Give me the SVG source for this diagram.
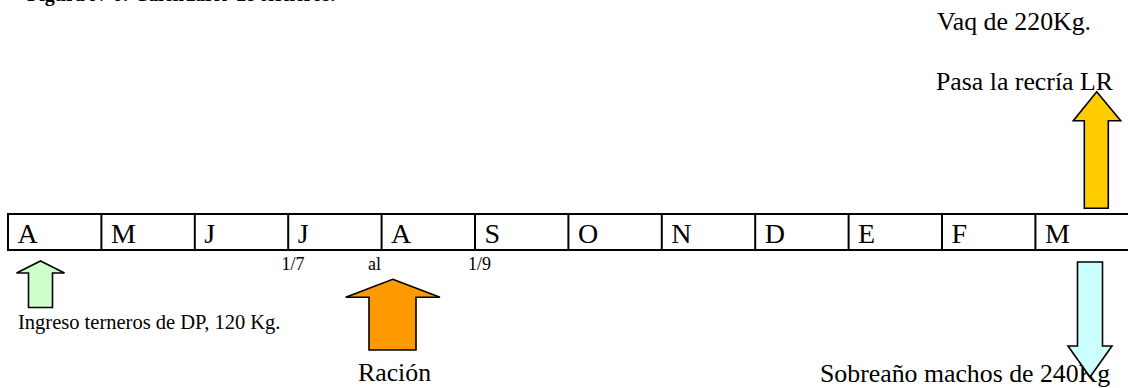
<svg xmlns="http://www.w3.org/2000/svg" width="1128" height="388" viewBox="0 0 1128 388">
<style>
  text { font-family: "Liberation Serif", "Times New Roman", serif; fill: #000; }
  .month { font-size: 28px; }
  .small { font-size: 18px; }
  .label { font-size: 25.8px; }
  .title { font-size: 20px; font-weight: bold; }
  .grid { fill: none; stroke: #000; stroke-width: 2; }
  .arrow { stroke: #000; stroke-width: 1.6; stroke-linejoin: miter; }
</style>
<rect width="1128" height="388" fill="#fff"/>
<text class="title" x="27" y="0.5">Figura N°6: Calendario de terneros.</text>

<g id="timeline">
  <rect class="grid" x="8" y="214" width="1121" height="36"/>
  <path class="grid" d="M101.4 214V250M194.8 214V250M288.2 214V250M381.6 214V250M475 214V250M568.4 214V250M661.8 214V250M755.2 214V250M848.6 214V250M942 214V250M1035.4 214V250"/>
  <text class="month" x="17.5" y="243">A</text>
  <text class="month" x="110.9" y="243">M</text>
  <text class="month" x="204.3" y="243">J</text>
  <text class="month" x="297.7" y="243">J</text>
  <text class="month" x="391.1" y="243">A</text>
  <text class="month" x="484.5" y="243">S</text>
  <text class="month" x="577.9" y="243">O</text>
  <text class="month" x="671.3" y="243">N</text>
  <text class="month" x="764.7" y="243">D</text>
  <text class="month" x="858.1" y="243">E</text>
  <text class="month" x="951.5" y="243">F</text>
  <text class="month" x="1044.9" y="243">M</text>
</g>

<g id="dates">
  <text class="small" x="281.5" y="269.5">1/7</text>
  <text class="small" x="368" y="269.5">al</text>
  <text class="small" x="468" y="269.5">1/9</text>
</g>

<g id="ingreso">
  <path class="arrow" fill="#CCFFCC" d="M40.5 261L64.5 273H52.5V307.5H28.5V273H16.5Z"/>
  <text style="font-size:20.5px" x="18" y="328.5">Ingreso terneros de DP, 120 Kg.</text>
</g>

<g id="racion">
  <path class="arrow" fill="#FF9900" d="M392.7 279.3L440 297.3H416V350H369V297.3H345.7Z"/>
  <text class="label" x="358" y="381">Ración</text>
</g>

<g id="recria">
  <text class="label" x="937" y="29.5">Vaq de 220Kg.</text>
  <text class="label" x="936" y="90">Pasa la recría LR</text>
  <path class="arrow" fill="#FFCC00" d="M1096.7 91.7L1120.7 120.7H1108.3V208.3H1084.3V120.7H1073.3Z"/>
</g>

<g id="sobreano">
  <text class="label" x="820" y="381.5">Sobreaño machos de 240Kg</text>
  <path class="arrow" fill="#CCFFFF" d="M1077.5 262H1102.5V346H1112L1090 377L1068 346H1077.5Z"/>
</g>
</svg>
